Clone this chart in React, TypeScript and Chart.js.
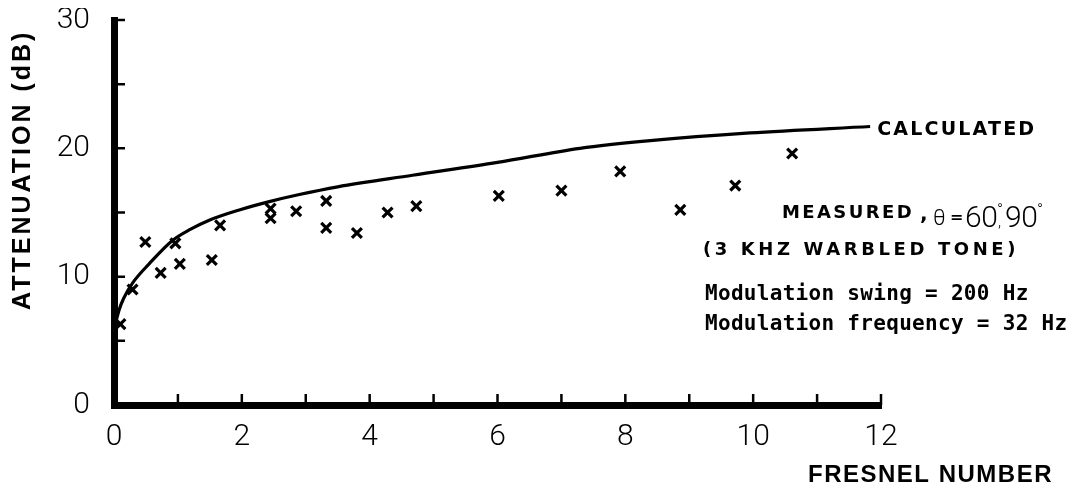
import React, { useEffect, useRef } from 'react';
import { Chart, registerables } from 'chart.js';

Chart.register(...registerables);

// Calculated attenuation curve (Fresnel number vs dB)
const calcX = [0, 0.03, 0.08, 0.15, 0.29, 0.55, 0.91, 1.2, 1.49, 1.96, 2.43, 2.9, 3.5, 4.67, 6, 7.29, 8.39, 9.95, 11.83];
const calcY = [5.1, 6.4, 7.4, 8.3, 9.5, 11.0, 12.8, 13.7, 14.4, 15.2, 15.85, 16.4, 17.0, 17.9, 18.9, 20.0, 20.6, 21.2, 21.7];

// Measured points
const measX = [0.1, 0.29, 0.49, 0.73, 0.96, 1.03, 1.53, 1.66, 2.45, 2.45, 2.85, 3.32, 3.32, 3.8, 4.28, 4.73, 6.02, 7.0, 7.92, 8.86, 9.72, 10.61];
const measY = [6.3, 9.0, 12.7, 10.3, 12.6, 11.0, 11.3, 14.0, 15.3, 14.55, 15.1, 15.9, 13.8, 13.4, 15.0, 15.5, 16.3, 16.7, 18.2, 15.2, 17.1, 19.6];

// Axis ticks
const xTickMarks = [1, 2, 3, 4, 5, 6, 7, 8, 9, 10, 11, 12];
const yTickMarks = [5, 10, 15, 20, 25, 30];

// Texts
const yTitle = 'ATTENUATION (dB)';
const xTitle = 'FRESNEL NUMBER';
const calcLabel = 'CALCULATED';
const measLabel = 'MEASURED';
const toneLabel = '(3 KHZ WARBLED TONE)';
const modLines = ['Modulation swing = 200 Hz', 'Modulation frequency = 32 Hz'];

const annotPlugin = {
  id: 'annot',
  afterDraw(chart: any) {
    const ctx = chart.ctx as CanvasRenderingContext2D;
    const xs = chart.scales.x;
    const ys = chart.scales.y;
    ctx.save();
    ctx.strokeStyle = '#000';
    ctx.fillStyle = '#000';
    // inward tick marks
    ctx.lineWidth = 2.5;
    ctx.beginPath();
    for (const v of xTickMarks) {
      const px = xs.getPixelForValue(v);
      ctx.moveTo(px, ys.bottom);
      ctx.lineTo(px, ys.bottom - 11);
    }
    for (const v of yTickMarks) {
      const py = ys.getPixelForValue(v);
      ctx.moveTo(xs.left, py);
      ctx.lineTo(xs.left + 11, py);
    }
    ctx.stroke();

    const setLS = (s: string) => { (ctx as any).letterSpacing = s; };

    // CALCULATED label at curve end
    const endX = xs.getPixelForValue(calcX[calcX.length - 1]);
    const endY = ys.getPixelForValue(calcY[calcY.length - 1]);
    ctx.textBaseline = 'alphabetic';
    ctx.textAlign = 'left';
    ctx.font = 'bold 19px "DejaVu Sans"';
    setLS('2.2px');
    ctx.fillText(calcLabel, endX + 7, endY + 8);

    // MEASURED, θ=60°,90°
    ctx.font = 'bold 18px "DejaVu Sans"';
    setLS('2.4px');
    const mx = 774;
    ctx.fillText(measLabel, mx, 210);
    setLS('0px');
    ctx.font = 'bold 20px "DejaVu Sans"';
    ctx.fillText(',', 912, 212);
    ctx.font = '300 22px Roboto';
    ctx.fillText('θ', 925, 217);
    ctx.font = 'bold 16px "DejaVu Sans"';
    ctx.fillText('=', 942, 214);
    ctx.font = '300 30px Roboto';
    setLS('-0.5px');
    ctx.fillText('60', 957, 219);
    ctx.fillText('90', 997, 219);
    setLS('0px');
    ctx.font = '300 16px Roboto';
    ctx.fillText(',', 990, 219);
    ctx.fillText('°', 989, 207);
    ctx.fillText('°', 1029, 207);

    // tone label
    ctx.font = 'bold 18px "DejaVu Sans"';
    setLS('3.6px');
    ctx.fillText(toneLabel, 695, 247);

    // modulation lines
    setLS('0.3px');
    ctx.font = 'bold 21px "DejaVu Sans Mono"';
    ctx.fillText(modLines[0], 697, 292);
    ctx.fillText(modLines[1], 697, 322);

    // x title
    ctx.font = 'bold 24px "Liberation Sans"';
    setLS('1.5px');
    ctx.fillText(xTitle, 800, 474);

    // y title
    ctx.save();
    ctx.translate(15, 302);
    ctx.rotate(-Math.PI / 2);
    ctx.font = 'bold 25px "Liberation Sans"';
    setLS('3px');
    ctx.textBaseline = 'middle';
    ctx.textAlign = 'left';
    ctx.fillText(yTitle, 0, 0);
    ctx.restore();

    setLS('0px');
    ctx.restore();
  },
};

export default function App() {
  const ref = useRef<HTMLCanvasElement | null>(null);
  useEffect(() => {
    if (!ref.current) return;
    const chart = new Chart(ref.current, {
      type: 'scatter',
      data: {
        datasets: [
          {
            label: 'Calculated',
            data: calcX.map((x, i) => ({ x, y: calcY[i] })),
            showLine: true,
            borderColor: '#000',
            borderWidth: 3.2,
            pointRadius: 0,
            cubicInterpolationMode: 'monotone',
            clip: false as any,
          },
          {
            label: 'Measured',
            data: measX.map((x, i) => ({ x, y: measY[i] })),
            showLine: false,
            pointStyle: 'crossRot',
            pointRadius: 7,
            pointBorderWidth: 3.2,
            borderColor: '#000',
            backgroundColor: '#000',
            clip: false as any,
          },
        ],
      },
      options: {
        animation: false,
        responsive: false,
        maintainAspectRatio: false,
        layout: { padding: { left: 0, right: 199, top: 12, bottom: 0 } },
        plugins: { legend: { display: false }, tooltip: { enabled: false } },
        scales: {
          x: {
            type: 'linear',
            min: 0,
            max: 12,
            grid: { display: false, drawTicks: false },
            border: { display: true, width: 7, color: '#000' },
            ticks: {
              stepSize: 2,
              color: '#000',
              padding: 14,
              font: { family: 'Roboto', weight: '300' as any, size: 30 },
            },
            afterFit(scale: any) {
              scale.height = 80;
              scale.paddingLeft = 0;
              scale.paddingRight = 0;
            },
          },
          y: {
            type: 'linear',
            min: 0,
            max: 30,
            grid: { display: false, drawTicks: false },
            border: { display: true, width: 7, color: '#000' },
            ticks: {
              stepSize: 10,
              color: '#000',
              padding: 24,
              font: { family: 'Roboto', weight: '300' as any, size: 30 },
            },
            afterFit(scale: any) {
              scale.width = 106;
              scale.paddingTop = 0;
              scale.paddingBottom = 0;
            },
          },
        },
      },
      plugins: [annotPlugin],
    });
    return () => chart.destroy();
  }, []);
  return (
    <div style={{ width: 1072, height: 477 }}>
      <canvas ref={ref} width={1072} height={477} style={{ display: 'block' }} />
    </div>
  );
}
